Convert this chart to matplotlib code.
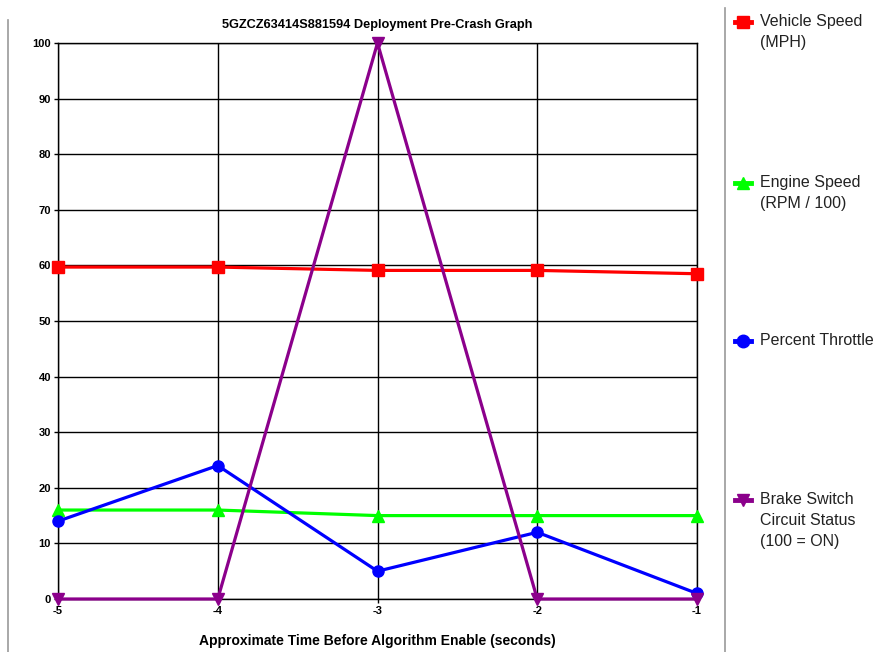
import matplotlib
matplotlib.use("Agg")
import matplotlib.pyplot as plt
from matplotlib.lines import Line2D

plt.rcParams['font.family'] = ['Liberation Sans', 'DejaVu Sans']
plt.rcParams['axes.unicode_minus'] = False

time_s = [-5, -4, -3, -2, -1]
vehicle_speed = [59.7, 59.7, 59.1, 59.1, 58.5]
engine_speed = [16, 16, 15, 15, 15]
throttle = [14, 24, 5, 12, 1]
brake = [0, 0, 100, 0, 0]

series = [
    ("Vehicle Speed\n(MPH)", vehicle_speed, "#ff0000", "s"),
    ("Engine Speed\n(RPM / 100)", engine_speed, "#00ff00", "^"),
    ("Percent Throttle", throttle, "#0000ff", "o"),
    ("Brake Switch\nCircuit Status\n(100 = ON)", brake, "#8b008b", "v"),
]

fig = plt.figure(figsize=(8.85, 6.52), dpi=100)
ax = fig.add_axes([58/885, 53/652, (697-58)/885, (599-43)/652])

for label, vals, col, mk in series:
    ax.plot(time_s, vals, color=col, marker=mk, markersize=8, linewidth=2.3,
            clip_on=False, zorder=3)

ax.set_xlim(-5, -1)
ax.set_ylim(0, 100)
ax.set_xticks(time_s)
ax.set_yticks(range(0, 101, 10))
ax.grid(True, color="black", linewidth=1)
ax.set_axisbelow(True)
for s in ax.spines.values():
    s.set_color("black")
    s.set_linewidth(1)
ax.tick_params(axis='both', labelsize=8, length=3, width=1, pad=2)
for t in ax.get_xticklabels() + ax.get_yticklabels():
    t.set_fontweight('bold')
ax.set_title("5GZCZ63414S881594 Deployment Pre-Crash Graph", fontsize=9.2,
             fontweight='bold', pad=11)
ax.set_xlabel("Approximate Time Before Algorithm Enable (seconds)", fontsize=10,
              fontweight='bold', labelpad=13)

# frame lines
fig.add_artist(Line2D([8/885, 8/885], [0, 1 - 20/652], color="#999999", linewidth=1.2))
fig.add_artist(Line2D([725/885, 725/885], [0, 1 - 8/652], color="#999999", linewidth=1.2))

# legend
leg_y = [22, 183, 341, 500]
for (label, vals, col, mk), yp in zip(series, leg_y):
    yf = 1 - yp/652
    fig.add_artist(Line2D([735/885, 751/885], [yf, yf], color=col, linewidth=3.5))
    fig.add_artist(Line2D([743/885], [yf], color=col, marker=mk, markersize=9,
                          linestyle='none'))
    fig.text(760/885, yf + 8/652, label, fontsize=11.5, va='top', ha='left',
             linespacing=1.5, color="#222222")

fig.savefig("out.png", dpi=100)
